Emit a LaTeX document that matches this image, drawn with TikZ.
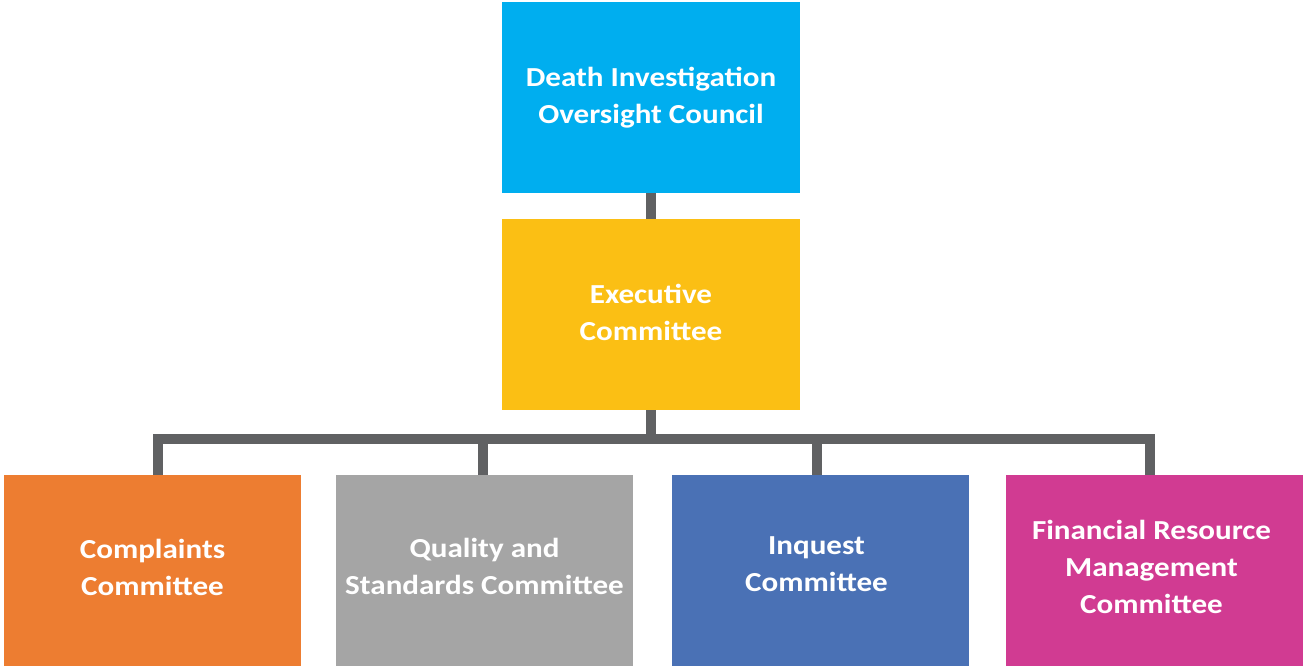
\documentclass[tikz,border=0pt]{standalone}
\usepackage{fontspec}
\usepackage{graphicx}
\setmainfont{Carlito}
\definecolor{cTop}{HTML}{00AEEF}
\definecolor{cExec}{HTML}{FBBF14}
\definecolor{cOrange}{HTML}{ED7D31}
\definecolor{cGray}{HTML}{A5A5A5}
\definecolor{cBlue}{HTML}{4A71B5}
\definecolor{cMag}{HTML}{D13B92}
\definecolor{cLine}{HTML}{606163}
\newcommand{\boxlbl}[1]{\scalebox{1.13}[1]{\begin{tabular}{@{}c@{}}#1\end{tabular}}}
\tikzset{
  box/.style={rectangle, inner sep=0pt, minimum width=298pt, text=white,
    font=\bfseries\fontsize{27.5}{37}\selectfont, align=center},
  conn/.style={draw=cLine, line width=10pt}
}
\begin{document}
\begin{tikzpicture}[x=1pt,y=-1pt]
\path[use as bounding box, fill=white] (0,0) rectangle (1303,666);
\node[box, fill=cTop, minimum height=191pt] (top) at (651,97.5) {\boxlbl{Death Investigation\\Oversight Council}};
\node[box, fill=cExec, minimum height=191pt] (exec) at (651,314.5) {\boxlbl{Executive\\Committee}};
\node[box, fill=cOrange, minimum width=297pt, minimum height=200pt] (c1) at (152.5,575) {};
\node[box, fill=cGray, minimum width=297pt, minimum height=200pt] (c2) at (484.5,575) {};
\node[box, fill=cBlue, minimum width=297pt, minimum height=200pt] (c3) at (820.5,575) {};
\node[box, fill=cMag, minimum width=297pt, minimum height=200pt] (c4) at (1154.5,575) {};
\node[box] (t1) at (152.5,569.5) {\boxlbl{Complaints\\Committee}};
\node[box] (t2) at (484.5,568.5) {\boxlbl{Quality and\\Standards Committee}};
\node[box] (t3) at (816.5,565.5) {\boxlbl{Inquest\\Committee}};
\node[box] (t4) at (1151.5,569.5) {\boxlbl{Financial Resource\\Management\\Committee}};
\coordinate (j1) at (158,438.5);
\coordinate (j2) at (483,438.5);
\coordinate (j3) at (817,438.5);
\coordinate (j4) at (1150,438.5);
\draw[conn] (top.south) -- (exec.north);
\draw[conn] (exec.south) -- (exec.south |- j1);
\draw[conn, line join=miter] (c1.north -| j1) -- (j1) -- (j4) -- (c4.north -| j4);
\draw[conn] (j2) -- (c2.north -| j2);
\draw[conn] (j3) -- (c3.north -| j3);
\end{tikzpicture}
\end{document}
